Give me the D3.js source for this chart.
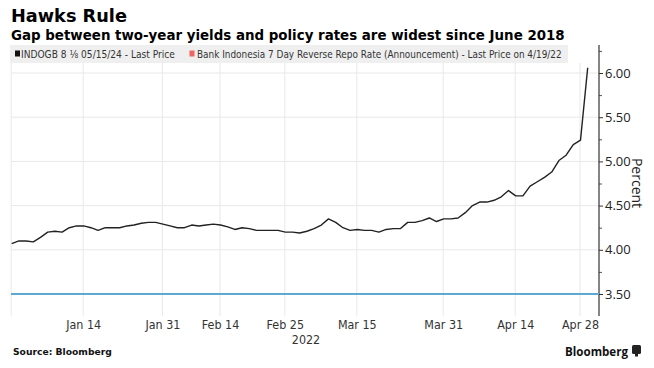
<!DOCTYPE html>
<html>
<head>
<meta charset="utf-8">
<script src="https://cdn.jsdelivr.net/npm/d3@7"></script>
<style>
  html, body { margin: 0; padding: 0; background: #fff; }
  svg { display: block; }
</style>
</head>
<body>
<svg id="chart" width="654" height="368"></svg>
<script>
// ---- Data ----
const dates = [
  "2021-12-31",
  "2022-01-03","2022-01-04","2022-01-05","2022-01-06","2022-01-07",
  "2022-01-10","2022-01-11","2022-01-12","2022-01-13","2022-01-14",
  "2022-01-17","2022-01-18","2022-01-19","2022-01-20","2022-01-21",
  "2022-01-24","2022-01-25","2022-01-26","2022-01-27","2022-01-28",
  "2022-01-31","2022-02-03","2022-02-04",
  "2022-02-07","2022-02-08","2022-02-09","2022-02-10","2022-02-11",
  "2022-02-14","2022-02-15","2022-02-16","2022-02-17","2022-02-18",
  "2022-02-21","2022-02-22","2022-02-23","2022-02-24","2022-02-25",
  "2022-03-01","2022-03-02","2022-03-04",
  "2022-03-07","2022-03-08","2022-03-09","2022-03-10","2022-03-11",
  "2022-03-14","2022-03-15","2022-03-16","2022-03-17","2022-03-18",
  "2022-03-21","2022-03-22","2022-03-23","2022-03-24","2022-03-25",
  "2022-03-28","2022-03-29","2022-03-30","2022-03-31","2022-04-01",
  "2022-04-04","2022-04-05","2022-04-06","2022-04-07","2022-04-08",
  "2022-04-11","2022-04-12","2022-04-13","2022-04-14",
  "2022-04-18","2022-04-19","2022-04-20","2022-04-21","2022-04-22",
  "2022-04-25","2022-04-26","2022-04-27","2022-04-28",
  "2022-05-09"
];
const indogbYield = [
  4.07, 4.10, 4.10, 4.09, 4.14, 4.20, 4.21, 4.20, 4.25, 4.27,
  4.27, 4.25, 4.22, 4.25, 4.25, 4.25, 4.27, 4.28, 4.30, 4.31,
  4.31, 4.29, 4.27, 4.25, 4.25, 4.28, 4.27, 4.28, 4.29, 4.28,
  4.26, 4.23, 4.25, 4.24, 4.22, 4.22, 4.22, 4.22, 4.20, 4.20,
  4.19, 4.21, 4.24, 4.28, 4.35, 4.31, 4.25, 4.22, 4.23, 4.22,
  4.22, 4.20, 4.23, 4.24, 4.24, 4.31, 4.31, 4.33, 4.36, 4.32,
  4.35, 4.35, 4.36, 4.42, 4.50, 4.54, 4.54, 4.56, 4.60, 4.67,
  4.61, 4.61, 4.72, 4.77, 4.82, 4.88, 5.01, 5.07, 5.19, 5.24,
  6.06
];
const policyRate = dates.map(() => 3.50);
const gridDates  = ["2021-12-31","2022-01-14","2022-01-31","2022-02-14","2022-02-25","2022-03-15","2022-03-31","2022-04-14","2022-04-28"];
const tickLabels = ["", "Jan 14","Jan 31","Feb 14","Feb 25","Mar 15","Mar 31","Apr 14","Apr 28"];
const yTicks = [3.50, 4.00, 4.50, 5.00, 5.50, 6.00];
const yMinorTicks = [3.75, 4.25, 4.75, 5.25, 5.75, 6.25];
const yearLabel = "2022";
const legendLabels = ["INDOGB 8 \u215B 05/15/24 - Last Price",
  "Bank Indonesia 7 Day Reverse Repo Rate (Announcement) - Last Price on 4/19/22"];

// ---- Helpers ----
function fit(sel, target) {
  const w = sel.node().getComputedTextLength();
  const fs = parseFloat(sel.style("font-size"));
  if (w > 0) sel.style("font-size", (fs * target / w).toFixed(2) + "px");
  return sel;
}
// horizontally condense a text placed at (px, py) so that it spans `target` px
function squeeze(sel, px, py, target) {
  const w = sel.node().getComputedTextLength();
  const k = w > 0 ? target / w : 1;
  sel.attr("x", 0).attr("y", 0).attr("transform", `translate(${px},${py}) scale(${k.toFixed(4)},1)`);
  return sel;
}

// ---- Layout ----
const svg = d3.select("#chart");
const plot = { left: 11, right: 599, top: 63, bottom: 316 };
const x = d3.scalePoint().domain(dates).range([11.7, 587.7]);
const y = d3.scaleLinear().domain([3.5, 6.0]).range([294, 73]);
const narrow = "'DejaVu Sans', sans-serif";
const boldFont = "'DejaVu Sans', Verdana, sans-serif";
const sansFont = "'Open Sans', 'DejaVu Sans', sans-serif";

// Titles
fit(svg.append("text").attr("x", 11).attr("y", 22)
  .style("font-family", boldFont).style("font-weight", "bold")
  .style("font-size", "20px").attr("fill", "#000").text("Hawks Rule"), 116);
fit(svg.append("text").attr("x", 11).attr("y", 40)
  .style("font-family", boldFont).style("font-weight", "bold")
  .style("font-size", "14px").attr("fill", "#000")
  .text("Gap between two-year yields and policy rates are widest since June 2018"), 554);

// Legend
svg.append("rect").attr("x", 10).attr("y", 45).attr("width", 558).attr("height", 18).attr("fill", "#efefef");
svg.append("rect").attr("x", 15).attr("y", 50.5).attr("width", 5).attr("height", 6).attr("fill", "#111");
squeeze(svg.append("text")
  .style("font-family", narrow).style("font-size", "11px").attr("fill", "#333")
  .text(legendLabels[0]), 21, 58, 154);
svg.append("rect").attr("x", 189.5).attr("y", 50.5).attr("width", 5).attr("height", 6).attr("fill", "#f06464");
squeeze(svg.append("text")
  .style("font-family", narrow).style("font-size", "11px").attr("fill", "#333")
  .text(legendLabels[1]), 197, 58, 365);

// Gridlines
const g = svg.append("g");
g.selectAll("line.h").data(yTicks).join("line")
  .attr("x1", plot.left).attr("x2", plot.right)
  .attr("y1", d => y(d)).attr("y2", d => y(d))
  .attr("stroke", "#e8e8e8").attr("stroke-width", 1);
g.selectAll("line.v").data(gridDates).join("line")
  .attr("x1", d => x(d) - 0.5).attr("x2", d => x(d) - 0.5)
  .attr("y1", plot.top).attr("y2", plot.bottom)
  .attr("stroke", "#e8e8e8").attr("stroke-width", 1);

// X tick labels (slightly condensed like the original)
const xt = svg.selectAll("text.xt").data(gridDates).join("text")
  .attr("text-anchor", "middle")
  .style("font-family", narrow).style("font-size", "12px").attr("fill", "#333")
  .text((d, i) => tickLabels[i]);
const kx = 35 / xt.nodes()[1].getComputedTextLength();
xt.attr("transform", d => `translate(${x(d)},329) scale(${kx.toFixed(4)},1)`);
svg.append("text").attr("text-anchor", "middle")
  .attr("transform", `translate(306,344) scale(${kx.toFixed(4)},1)`)
  .style("font-family", narrow).style("font-size", "12px").attr("fill", "#333")
  .text(yearLabel);

// Y axis (right)
const yAxis = d3.axisRight(y).tickValues(yTicks).tickSize(4).tickPadding(2).tickFormat(d3.format(".2f"));
const ya = svg.append("g").attr("transform", `translate(${plot.right},0)`).call(yAxis);
ya.select(".domain").remove();
ya.selectAll("text").style("font-family", sansFont).style("font-size", "13px").attr("fill", "#222");
ya.selectAll("line").attr("stroke", "#333");
const ym = svg.append("g").attr("transform", `translate(${plot.right},0)`)
  .call(d3.axisRight(y).tickValues(yMinorTicks).tickSize(3).tickFormat(""));
ym.select(".domain").remove();
ym.selectAll("line").attr("stroke", "#555");
svg.append("line").attr("x1", plot.right).attr("x2", plot.right)
  .attr("y1", 45).attr("y2", plot.bottom).attr("stroke", "#333").attr("stroke-width", 1.2);
svg.append("text")
  .attr("transform", `translate(632,183) rotate(90)`)
  .attr("text-anchor", "middle")
  .style("font-family", sansFont).style("font-size", "14px").attr("fill", "#222")
  .text("Percent");

// Series
svg.append("line").attr("x1", plot.left).attr("x2", plot.right)
  .attr("y1", y(policyRate[0])).attr("y2", y(policyRate[policyRate.length - 1]))
  .attr("stroke", "#5ea9d0").attr("stroke-width", 2);
svg.append("path")
  .datum(dates.map((d, i) => ({ date: d, v: policyRate[i] })))
  .attr("d", d3.line().x(d => x(d.date)).y(d => y(d.v)))
  .attr("fill", "none").attr("stroke", "#5ea9d0").attr("stroke-width", 2);
svg.append("path")
  .datum(dates.map((d, i) => ({ date: d, v: indogbYield[i] })))
  .attr("d", d3.line().x(d => x(d.date)).y(d => y(d.v)))
  .attr("fill", "none").attr("stroke", "#222").attr("stroke-width", 1.4).attr("stroke-linejoin", "round");

// Footer
fit(svg.append("text").attr("x", 13).attr("y", 355)
  .style("font-family", boldFont).style("font-weight", "bold").style("font-size", "10.5px").attr("fill", "#111")
  .text("Source: Bloomberg"), 99);
fit(svg.append("text").attr("x", 565).attr("y", 356)
  .style("font-family", sansFont).style("font-weight", "bold").style("font-size", "13px")
  .attr("fill", "#111")
  .text("Bloomberg"), 63);
svg.append("rect").attr("x", 632).attr("y", 345).attr("width", 9).attr("height", 9).attr("rx", 1.5).attr("fill", "#222");
svg.append("rect").attr("x", 635).attr("y", 354).attr("width", 3).attr("height", 2.5).attr("fill", "#222");
</script>
</body>
</html>
